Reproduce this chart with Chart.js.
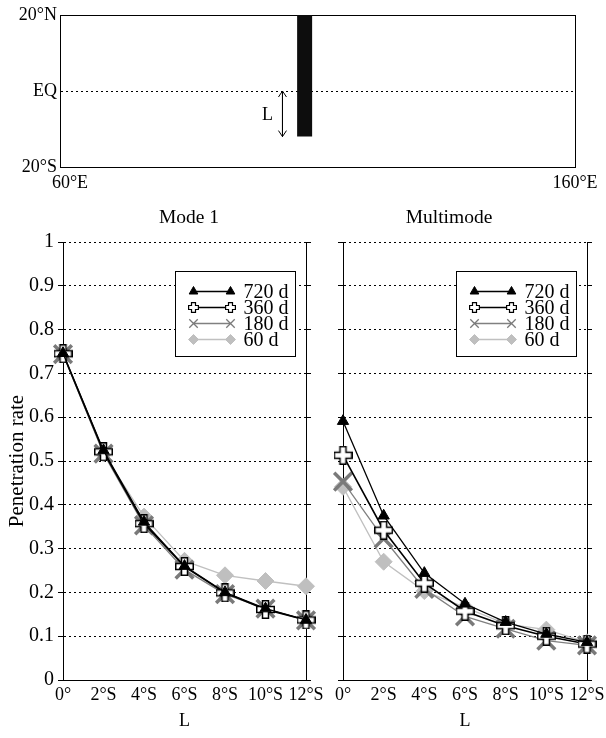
<!DOCTYPE html>
<html>
<head>
<meta charset="utf-8">
<title>Penetration rate</title>
<script src="https://cdn.jsdelivr.net/npm/chart.js@4.4.1/dist/chart.umd.min.js"></script>
<style>
  html, body { margin: 0; padding: 0; background: #fff; overflow: hidden; }
  #page { position: relative; width: 606px; height: 738px; overflow: hidden; background: #fff; }
  #page canvas { position: absolute; }
</style>
</head>
<body>
<div id="page">
  <canvas id="mapChart" width="606" height="200" style="left:0;top:0"></canvas>
  <canvas id="mode1Chart" width="378" height="538" style="left:0;top:200px"></canvas>
  <canvas id="multiChart" width="362" height="538" style="left:268px;top:200px"></canvas>
</div>
<script>
Chart.defaults.font.family = '"Liberation Serif", "Times New Roman", serif';
Chart.defaults.font.size = 18;
Chart.defaults.color = '#000';
Chart.defaults.animation = false;

// map of the forcing region
const lonTicks = [60, 160];
const lonTickLabels = ['60°E', '160°E'];
const latTicks = [-20, 0, 20];
const latTickLabels = ['20°S', 'EQ', '20°N'];
const forcingLon = [107.5, 107.5];
const forcingLat = [20, -12];
const arrowLon = [103.2, 103.2];
const arrowLat = [0, -12];

// penetration rate vs southern edge L
const latitudes = ['0°', '2°S', '4°S', '6°S', '8°S', '10°S', '12°S'];
const runLabels = ['720 d', '360 d', '180 d', '60 d'];
const yTicks = [0, 0.1, 0.2, 0.3, 0.4, 0.5, 0.6, 0.7, 0.8, 0.9, 1];

const mode1_720 = [0.746, 0.524, 0.361, 0.260, 0.200, 0.163, 0.137];
const mode1_360 = [0.745, 0.521, 0.357, 0.259, 0.199, 0.161, 0.137];
const mode1_180 = [0.744, 0.517, 0.353, 0.252, 0.196, 0.163, 0.136];
const mode1_60  = [0.744, 0.517, 0.373, 0.272, 0.239, 0.226, 0.214];

const multi_720 = [0.591, 0.375, 0.244, 0.174, 0.132, 0.105, 0.086];
const multi_360 = [0.513, 0.342, 0.221, 0.157, 0.124, 0.100, 0.082];
const multi_180 = [0.453, 0.323, 0.208, 0.145, 0.117, 0.090, 0.079];
const multi_60  = [0.441, 0.270, 0.203, 0.166, 0.128, 0.115, 0.086];

const serif = '"Liberation Serif", "Times New Roman", serif';

// hollow plus marker
function plusMark(size, arm, lw) {
  const c = document.createElement('canvas');
  c.width = size; c.height = size;
  const g = c.getContext('2d');
  const m = size / 2, a = arm / 2, e = m - lw / 2;
  const pts = [[-a,-e],[a,-e],[a,-a],[e,-a],[e,a],[a,a],[a,e],[-a,e],[-a,a],[-e,a],[-e,-a],[-a,-a]];
  g.beginPath();
  pts.forEach((p, i) => i ? g.lineTo(m + p[0], m + p[1]) : g.moveTo(m + p[0], m + p[1]));
  g.closePath();
  g.fillStyle = '#fff';
  g.fill();
  g.lineWidth = lw;
  g.strokeStyle = '#000';
  g.stroke();
  return c;
}

const seriesStyles = [
  { borderColor: '#000', borderWidth: 1.3, pointStyle: 'triangle', pointRadius: 6.5,
    pointBackgroundColor: '#000', pointBorderColor: '#000', pointBorderWidth: 1,
    legendPointStyle: 'triangle', legendPointRadius: 5, legendBorderWidth: 1 },
  { borderColor: '#000', borderWidth: 1.6, pointStyle: plusMark(19, 6, 1.5), pointRadius: 9,
    pointBackgroundColor: '#fff', pointBorderColor: '#000',
    legendPointStyle: plusMark(11, 4, 1.2), legendPointRadius: 5, legendBorderWidth: 1 },
  { borderColor: '#808080', borderWidth: 1.3, pointStyle: 'crossRot', pointRadius: 12.5,
    pointBackgroundColor: '#7a7a7a', pointBorderColor: '#7a7a7a', pointBorderWidth: 3.5,
    legendPointStyle: 'crossRot', legendPointRadius: 6, legendBorderWidth: 1.3 },
  { borderColor: '#c0c0c0', borderWidth: 1.3, pointStyle: 'rectRot', pointRadius: 8.5,
    pointBackgroundColor: '#bfbfbf', pointBorderColor: '#bfbfbf', pointBorderWidth: 1,
    legendPointStyle: 'rectRot', legendPointRadius: 5, legendBorderWidth: 1 }
];

function makeDatasets(rows) {
  return rows.map((data, i) => Object.assign({ label: runLabels[i], data: data, clip: false, tension: 0 }, seriesStyles[i]));
}

// boxed legend with a marker at each end of the line sample
const boxLegend = {
  id: 'boxLegend',
  afterDatasetsDraw(chart, args, opts) {
    const ctx = chart.ctx, area = chart.chartArea;
    const x0 = Math.round(area.right - opts.right - opts.width) + 0.5;
    const y0 = Math.round(area.top + opts.top) + 0.5;
    ctx.save();
    ctx.fillStyle = '#fff';
    ctx.fillRect(x0, y0, opts.width, opts.height);
    ctx.lineWidth = 1;
    ctx.strokeStyle = '#000';
    ctx.strokeRect(x0, y0, opts.width, opts.height);
    ctx.font = opts.fontSize + 'px ' + serif;
    ctx.textBaseline = 'middle';
    ctx.textAlign = 'left';
    chart.data.datasets.forEach((ds, i) => {
      const y = y0 + opts.firstRow + i * opts.rowGap;
      const xa = x0 + opts.lineFrom, xb = x0 + opts.lineTo;
      ctx.strokeStyle = ds.borderColor;
      ctx.lineWidth = ds.borderWidth;
      ctx.beginPath();
      ctx.moveTo(xa, y);
      ctx.lineTo(xb, y);
      ctx.stroke();
      [xa, xb].forEach(x => {
        ctx.fillStyle = ds.pointBackgroundColor;
        ctx.strokeStyle = ds.pointBorderColor;
        ctx.lineWidth = ds.legendBorderWidth;
        Chart.helpers.drawPoint(ctx, { pointStyle: ds.legendPointStyle, radius: ds.legendPointRadius, rotation: 0, borderWidth: ds.legendBorderWidth }, x, y);
      });
      ctx.fillStyle = '#000';
      ctx.fillText(ds.label, x0 + opts.textAt, y + 1);
    });
    ctx.restore();
  }
};

function curveOptions(title, showYLabels, yWidth, y2Width) {
  return {
    responsive: false,
    animation: false,
    layout: { padding: 0 },
    plugins: {
      legend: { display: false },
      tooltip: { enabled: false },
      title: { display: true, text: title, fullSize: true, font: { size: 19.5, weight: 'normal' }, color: '#000', padding: { top: 6, bottom: 12.6 } },
      boxLegend: { right: 11, top: 29, width: 120, height: 85, firstRow: 20, rowGap: 16, lineFrom: 18, lineTo: 55, textAt: 68, fontSize: 20 }
    },
    scales: {
      x: {
        type: 'category',
        grid: { display: false, drawTicks: false },
        border: { display: true, color: '#000', width: 1 },
        ticks: { autoSkip: false, maxRotation: 0, padding: 4, font: { size: 18 } },
        title: { display: true, text: 'L', font: { size: 18 }, padding: { top: 0, bottom: 6 } },
        afterFit: s => { s.height = 58; }
      },
      y: {
        type: 'linear', min: 0, max: 1,
        afterBuildTicks: s => { s.ticks = yTicks.map(v => ({ value: v })); },
        ticks: { display: showYLabels, padding: 4, font: { size: 20 }, callback: v => String(v) },
        grid: { color: '#000', lineWidth: 1, drawTicks: true, tickLength: 5, tickColor: '#000' },
        border: { display: true, color: '#000', width: 1, dash: [2, 3] },
        title: { display: showYLabels, text: 'Penetration rate', font: { size: 21 }, padding: { top: 5, bottom: 0 } },
        afterFit: s => { s.width = yWidth; }
      },
      y2: {
        type: 'linear', position: 'right', min: 0, max: 1,
        afterBuildTicks: s => { s.ticks = yTicks.map(v => ({ value: v })); },
        ticks: { display: false },
        grid: { drawOnChartArea: false, drawTicks: true, tickLength: 5, tickColor: '#000' },
        border: { display: true, color: '#000', width: 1 },
        afterFit: s => { s.width = y2Width; }
      }
    }
  };
}

new Chart(document.getElementById('mode1Chart'), {
  type: 'line',
  data: { labels: latitudes, datasets: makeDatasets([mode1_720, mode1_360, mode1_180, mode1_60]) },
  options: curveOptions('Mode 1', true, 63, 72),
  plugins: [boxLegend]
});

new Chart(document.getElementById('multiChart'), {
  type: 'line',
  data: { labels: latitudes, datasets: makeDatasets([multi_720, multi_360, multi_180, multi_60]) },
  options: curveOptions('Multimode', false, 75, 43),
  plugins: [boxLegend]
});

// double-headed arrow and its "L" label on the map
const arrowHeads = {
  id: 'arrowHeads',
  afterDatasetsDraw(chart) {
    const ctx = chart.ctx;
    chart.data.datasets.forEach((ds, i) => {
      if (!ds.arrow) return;
      const pts = chart.getDatasetMeta(i).data;
      const top = pts[0], bot = pts[pts.length - 1];
      ctx.save();
      ctx.strokeStyle = '#000';
      ctx.lineWidth = 1;
      ctx.beginPath();
      ctx.moveTo(top.x - 4, top.y + 6); ctx.lineTo(top.x, top.y); ctx.lineTo(top.x + 4, top.y + 6);
      ctx.moveTo(bot.x - 4, bot.y - 6); ctx.lineTo(bot.x, bot.y); ctx.lineTo(bot.x + 4, bot.y - 6);
      ctx.stroke();
      ctx.font = '18px ' + serif;
      ctx.fillStyle = '#000';
      ctx.textAlign = 'center';
      ctx.textBaseline = 'middle';
      ctx.fillText(ds.label, top.x - 15, (top.y + bot.y) / 2 + 1);
      ctx.restore();
    });
  }
};

// the west-edge label axis takes no layout room, but its labels need a box to be drawn in
const westLabelBox = {
  id: 'westLabelBox',
  afterLayout(chart) {
    const w = chart.scales.xWest;
    w.bottom = w.top + 33;
    w.height = 33;
  }
};

const lonAxis = (ticks, extra) => Object.assign({
  type: 'linear', position: 'bottom', min: lonTicks[0], max: lonTicks[lonTicks.length - 1],
  afterBuildTicks: s => { s.ticks = ticks.map(v => ({ value: v })); },
  grid: { display: false, drawTicks: false }
}, extra);

new Chart(document.getElementById('mapChart'), {
  type: 'line',
  data: {
    datasets: [
      { label: 'forcing', data: forcingLon.map((x, i) => ({ x: x, y: forcingLat[i] })),
        borderColor: '#0d0d0d', borderWidth: 15, borderCapStyle: 'butt', pointRadius: 0, clip: false },
      { label: 'L', data: arrowLon.map((x, i) => ({ x: x, y: arrowLat[i] })),
        borderColor: '#000', borderWidth: 1, pointRadius: 0, clip: false, arrow: true }
    ]
  },
  options: {
    responsive: false,
    animation: false,
    layout: { padding: { top: 15 } },
    plugins: { legend: { display: false }, tooltip: { enabled: false } },
    scales: {
      x: lonAxis([lonTicks[1]], {
        weight: 1,
        ticks: { callback: () => lonTickLabels[1], padding: 5, maxRotation: 0, autoSkip: false },
        border: { display: true, color: '#000' },
        afterFit: s => { s.height = 33; }
      }),
      xWest: lonAxis([lonTicks[0]], {
        weight: 0,
        ticks: { callback: () => lonTickLabels[0], padding: 5, maxRotation: 0, autoSkip: false, labelOffset: 10 },
        border: { display: false },
        afterFit: s => { s.height = 0; }
      }),
      y: {
        type: 'linear', min: -20, max: 20,
        afterBuildTicks: s => { s.ticks = latTicks.map(v => ({ value: v })); },
        ticks: { callback: (v, i) => latTickLabels[i], padding: 3 },
        grid: { color: c => (c.tick && c.tick.value === 0 ? '#000' : 'rgba(0,0,0,0)'), drawTicks: false },
        border: { display: true, color: '#000', dash: [2, 3] },
        afterFit: s => { s.width = 60; }
      },
      xTop: {
        type: 'linear', position: 'top', min: 60, max: 160,
        ticks: { display: false }, grid: { display: false, drawTicks: false },
        border: { display: true, color: '#000' },
        afterFit: s => { s.height = 0; }
      },
      yRight: {
        type: 'linear', position: 'right', min: -20, max: 20,
        ticks: { display: false }, grid: { display: false, drawTicks: false },
        border: { display: true, color: '#000' },
        afterFit: s => { s.width = 31; }
      }
    }
  },
  plugins: [arrowHeads, westLabelBox]
});
</script>
</body>
</html>
